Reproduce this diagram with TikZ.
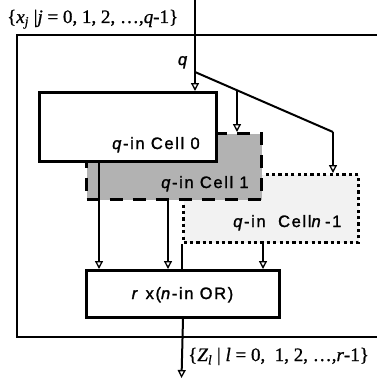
\documentclass[tikz,border=0pt]{standalone}
\usepackage{fontspec}
\setmainfont[FakeBold=0.8]{Liberation Serif}
\newfontfamily\lsans[LetterSpace=10,FakeBold=1.5]{Liberation Sans}
\usetikzlibrary{arrows.meta}
\begin{document}
\begin{tikzpicture}[x=1pt,y=-1pt,
  wire/.style={line width=2pt},
  arr/.style={line width=2pt,-{Triangle[open,length=8pt,width=8pt,line width=1.3pt]}},
  boxbase/.style={anchor=north west,inner sep=0pt,line width=3pt},
  cellzero/.style={boxbase,draw,fill=white},
  cellone/.style={boxbase,draw,fill=black!30,dash pattern=on 13pt off 10pt},
  celllast/.style={boxbase,draw,fill=black!5,dash pattern=on 3.2pt off 3.2pt},
  orbox/.style={boxbase,draw,fill=white},
  slabel/.style={inner sep=0pt,font=\lsans\fontsize{16.5}{19}\selectfont},
  mlabel/.style={inner sep=0pt,font=\fontsize{19}{22}\selectfont}
]
\useasboundingbox (0,0) rectangle (377,380);
% outer frame (right side beyond the picture)
\coordinate (otr) at (377,35);
\coordinate (otl) at (17,35);
\coordinate (obl) at (17,337);
\coordinate (obr) at (377,337);
\draw[line width=2pt] (otr) -- (otl) -- (obl) -- (obr);
% cells
\node[celllast,minimum width=175pt,minimum height=68pt] (cn) at (182,173) {};
\node[cellone,minimum width=175pt,minimum height=66pt] (c1) at (85,132) {};
\node[cellzero,minimum width=177pt,minimum height=69pt] (c0) at (38,91) {};
\node[orbox,minimum width=193pt,minimum height=47pt] (or) at (85,269) {};
% labels
\node[slabel,anchor=base west] (l0) at (112,149) {\textit{q}-in Cell 0};
\node[slabel,anchor=base west] (l1) at (161,188) {\textit{q}-in Cell 1};
\node[slabel,anchor=base west] (ln) at (233,227) {\textit{q}-in\ \ Cell\textit{n}\,-1};
\node[slabel,anchor=base] (lor) at (182.5,299) {\textit{r} x(\textit{n}-in OR)};
\node[slabel,anchor=base east] (lq) at (189,65) {\textit{q}};
\node[mlabel,anchor=base west] (lin) at (7,23) {\{\textit{x}\textsubscript{\textit{j}} |\textit{j} = 0, 1, 2, \dots,\textit{q}-1\}};
\node[mlabel,anchor=base west] (lout) at (188,361) {\{\textit{Z}\textsubscript{\textit{l}} | \textit{l} = 0,\ \ 1, 2, \dots,\textit{r}-1\}};
% input and branches
\coordinate (in) at (195,0);
\coordinate (br) at (195,72);
\coordinate (bend) at (333,132);
\coordinate (b2) at (237,90.3);
\draw[arr] (in) -- (in |- c0.north);
\draw[wire] (br) -- (bend);
\draw[arr] (bend) -- (bend |- cn.north);
\draw[arr] (b2) -- (b2 |- c1.north);
% to OR
\coordinate (a0) at (99,0);
\coordinate (a1) at (168,0);
\coordinate (a2) at (263,0);
\draw[arr] (a0 |- c0.south) -- (a0 |- or.north);
\draw[arr] (a1 |- c1.south) -- (a1 |- or.north);
\draw[arr] (a2 |- cn.south) -- (a2 |- or.north);
\draw[wire] (cn.south west) -- (cn.south west |- or.north);
% output
\coordinate (out) at (181.5,378);
\draw[arr] (or.south) -- (out);
\end{tikzpicture}
\end{document}
